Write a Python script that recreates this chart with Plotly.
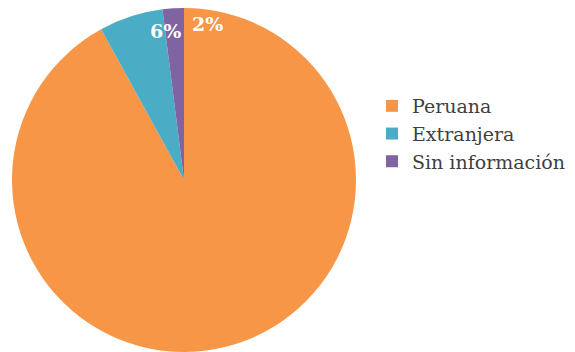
import plotly.graph_objects as go

# Nationality breakdown
categorias = ["Peruana", "Extranjera", "Sin información"]
porcentajes = [92, 6, 2]
colores = ["#F79646", "#4BACC6", "#8064A2"]

# Only the two small slices carry a visible label: (x, y, anchor)
etiquetas = {
    "Extranjera": (183 / 575, 1 - 31 / 352, "right"),
    "Sin información": (190 / 575, 1 - 24 / 352, "left"),
}

fig = go.Figure(
    go.Pie(
        labels=categorias,
        values=porcentajes,
        marker=dict(colors=colores, line=dict(width=0)),
        sort=False,
        direction="clockwise",
        rotation=0,
        textinfo="none",
        hoverinfo="label+percent",
        domain=dict(x=[12 / 575, 356 / 575], y=[0, 344 / 352]),
    )
)

for cat, val in zip(categorias, porcentajes):
    if cat in etiquetas:
        px, py, anchor = etiquetas[cat]
        fig.add_annotation(
            x=px, y=py, xref="paper", yref="paper",
            xanchor=anchor, yanchor="middle",
            text=f"<b>{val}%</b>", showarrow=False,
            font=dict(family="DejaVu Serif", size=19, color="white"),
        )

fig.update_layout(
    width=575,
    height=352,
    margin=dict(l=0, r=0, t=0, b=0),
    paper_bgcolor="white",
    plot_bgcolor="white",
    legend=dict(
        x=372 / 575, y=1 - 87 / 352, xanchor="left", yanchor="top",
        font=dict(family="DejaVu Serif", size=19, color="#3F3F3F"),
        itemwidth=30, tracegroupgap=0,
    ),
)

fig.write_html("out.html")
